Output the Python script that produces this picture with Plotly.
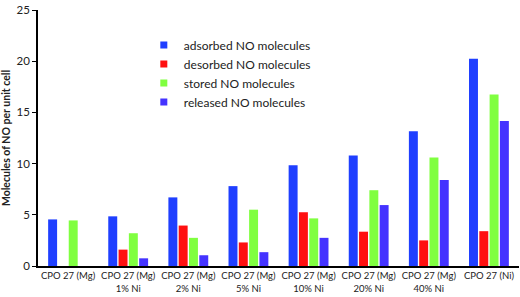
import plotly.graph_objects as go

categories = ["CPO 27 (Mg)", "CPO 27 (Mg)<br>1% Ni", "CPO 27 (Mg)<br>2% Ni", "CPO 27 (Mg)<br>5% Ni",
              "CPO 27 (Mg)<br>10% Ni", "CPO 27 (Mg)<br>20% Ni", "CPO 27 (Mg)<br>40% Ni", "CPO 27 (Ni)"]
adsorbed = [4.55, 4.85, 6.7, 7.8, 9.85, 10.8, 13.15, 20.25]
desorbed = [0, 1.6, 3.95, 2.3, 5.25, 3.35, 2.5, 3.4]
stored = [4.45, 3.2, 2.75, 5.5, 4.65, 7.4, 10.6, 16.75]
released = [0, 0.75, 1.05, 1.35, 2.75, 5.95, 8.4, 14.15]

series = [
    ("adsorbed NO molecules", adsorbed, "#1f3fff"),
    ("desorbed NO molecules", desorbed, "#ff1010"),
    ("stored NO molecules", stored, "#80ff40"),
    ("released NO molecules", released, "#4433ff"),
]

fig = go.Figure()
for name, vals, col in series:
    fig.add_trace(go.Bar(x=categories, y=vals, name=name, showlegend=False,
                         marker=dict(color=col, line=dict(width=0))))
# legend entries with small square swatches
for name, vals, col in series:
    fig.add_trace(go.Scatter(x=[None], y=[None], mode="markers", name=name,
                             marker=dict(symbol="square", size=7, color=col)))

fig.update_layout(
    width=520, height=297,
    margin=dict(l=38, r=1, t=10, b=31, autoexpand=False),
    paper_bgcolor="white", plot_bgcolor="white",
    barmode="group", bargap=0.315, bargroupgap=0.13,
    font=dict(family="Lato, Open Sans, sans-serif", size=10, color="#222"),
    legend=dict(x=0.22, y=0.92, xanchor="left", yanchor="top", bgcolor="rgba(0,0,0,0)",
                font=dict(size=12), itemwidth=30, tracegroupgap=0),
    showlegend=True,
)
fig.update_xaxes(range=[-0.5, 7.5], showline=True, linecolor="black", linewidth=1.5, ticks="",
                 showgrid=False, tickfont=dict(size=9.5), tickangle=0, automargin=False)
fig.update_yaxes(range=[0, 25], tickvals=[0, 5, 10, 15, 20, 25], showline=True, linecolor="black",
                 linewidth=1.5, ticks="outside", ticklen=4, tickcolor="black", showgrid=False,
                 zeroline=False, tickfont=dict(size=11.5), automargin=False,
                 title=dict(text="<b>Molecules of NO per unit cell</b>", font=dict(size=10.5), standoff=4))

fig.write_html("out.html", config={"displayModeBar": False},
               post_script="document.body.style.margin='0';document.body.style.overflow='hidden';")
